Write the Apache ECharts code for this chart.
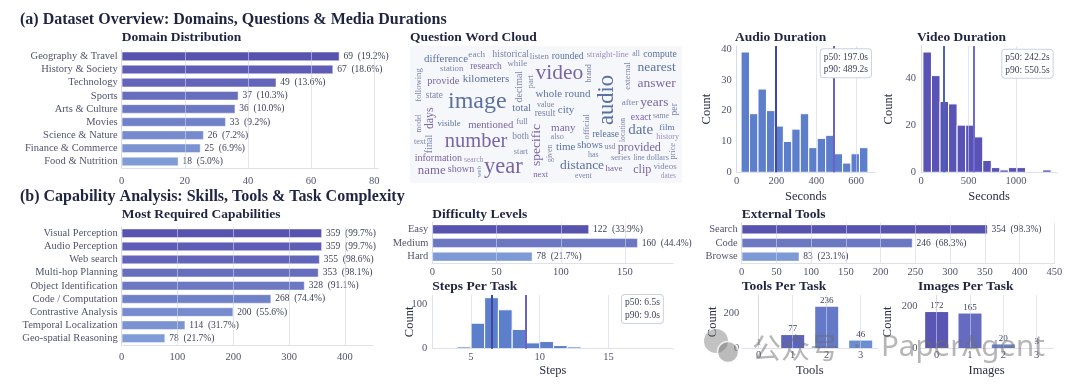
<!DOCTYPE html>
<html><head><meta charset="utf-8">
<script src="https://cdn.jsdelivr.net/npm/echarts@6/dist/echarts.min.js"></script>
<style>html,body{margin:0;padding:0;background:#fff}#c{width:1080px;height:386px}</style>
</head><body><div id="c"></div>
<script>
// ---------------- DATA ----------------
const domainCats = ['Geography & Travel','History & Society','Technology','Sports','Arts & Culture','Movies','Science & Nature','Finance & Commerce','Food & Nutrition'];
const domainVals = [69,67,49,37,36,33,26,25,18];
const domainPct = ['19.2','18.6','13.6','10.3','10.0','9.2','7.2','6.9','5.0'];

const capCats = ['Visual Perception','Audio Perception','Web search','Multi-hop Planning','Object Identification','Code / Computation','Contrastive Analysis','Temporal Localization','Geo-spatial Reasoning'];
const capVals = [359,359,355,353,328,268,200,114,78];
const capPct = ['99.7','99.7','98.6','98.1','91.1','74.4','55.6','31.7','21.7'];

const diffCats = ['Easy','Medium','Hard'];
const diffVals = [122,160,78];
const diffPct = ['33.9','44.4','21.7'];

const extCats = ['Search','Code','Browse'];
const extVals = [354,246,83];
const extPct = ['98.3','68.3','23.1'];

const audioEdges = [22,64.5,107,149.5,192,234.5,277,319.5,362,404.5,447,489.5,532,574.5,617,659.5];
const audioCounts = [39,19,27,20,15,10,14,19,8,11,12,6,3,6,8];
const audioP50 = 197.0, audioP90 = 489.2;

const videoEdges = [20,110,200,290,380,470,560,650,740,830,920,1010,1100,1190,1280,1370];
const videoCounts = [51,41,30,29,20,20,15,5,2,1,2,2,0,0,1];
const videoP50 = 242.2, videoP90 = 550.5;

const stepEdges = [4,5,6,7,8,9,10,11,12,13];
const stepCounts = [4,57,114,87,43,13,16,7,4];
const stepP50 = 6.5, stepP90 = 9.0;

const toolsPerTaskCats = [0,1,2,3];
const toolsPerTaskVals = [1,77,236,46];
const imagesPerTaskCats = [0,1,2,3];
const imagesPerTaskVals = [172,165,20,3];

// word cloud: words, relative weight (font px), rotation, tone
const cloudWords = ['image','video','audio','number','year','distance','date','specific','nearest','answer','years','provided','clip','mentioned','difference','provide','kilometers','whole','round','city','total','many','time','name','days','historical','rounded','compute','research','each','listen','straight-line','all','while','station','brand','external','following','part','decimal','state','value','result','after','per','model','visible','full','official','exact','same','film','history','location','both','also','release','text','final','shows','usd','price','start','given','has','information','search','series','line','dollars','shown','web','have','videos','dates','next','event'];
const cloudWeight = [24,21.5,22.5,20.5,22.5,13.5,15,13.5,13.5,13.5,13.4,12.2,12.2,10.7,10.9,10.5,11,10.9,11,11,10.5,11,11,12.8,11.8,9.9,9.7,9.7,9.5,9.1,8.8,8.7,7.7,8.9,8.7,8,8.5,8.6,8.6,10,9.3,8,9.3,9.1,9.6,7.3,8.7,8.4,8.9,9.8,7.8,9.2,8.2,7.5,9.4,8.3,9.6,8,10,10.3,8.1,8.3,8.3,7.8,8,10,7.6,8.6,7.5,8.2,10.1,7,9,8.9,7.3,8.7,7.7];
const cloudRot = [0,0,90,0,0,0,0,90,0,0,0,0,0,0,0,0,0,0,0,0,0,0,0,0,90,0,0,0,0,0,0,0,0,0,0,90,90,90,90,90,0,0,0,0,90,90,0,0,90,0,0,0,0,90,0,0,0,0,90,0,0,90,0,90,0,0,0,0,0,0,0,90,0,0,0,0,0];
const cloudTone = ['B','P','B','P','P','B','B','P','B','P','P','P','P','P','B','P','B','B','B','B','B','P','B','P','P','M','B','B','P','M','M','L','M','M','M','M','M','M','M','M','M','M','M','M','M','M','B','M','M','P','M','B','L','M','M','M','B','M','M','B','M','M','M','M','M','P','L','M','M','M','P','M','P','M','L','P','M'];
const cloudX = [67.3,149.3,197.3,66,93.3,172,230.7,126,246.7,246.7,244.3,229.3,232.3,80.7,36,33.3,76,138.7,167.7,156,111.7,153.3,155.7,21.7,20,100.7,157.7,250,76,66.7,129.3,197.7,226,107.3,41.7,179.3,217.7,8.3,120.7,109,24.3,135.7,135,220,264,9.3,39,112,176.7,231,251,257,257.7,213.3,110.7,147.3,195.7,10,19.3,180,200,262.7,111,140,183.3,28.3,63.7,210.7,229,247.7,51,69,204,255,258.3,130.7,173.3];
const cloudY = [55.7,27.3,54,95.7,121.3,119,84,99,21.7,37.3,56.7,101.7,124,78.7,12.7,35,33.3,48,48,64,62.7,81.7,100.7,124.7,72.3,8.3,10,8,20,8.3,10.7,8.3,7.7,18,23,27.3,30,39,35.7,40.7,49.3,59,67.3,56.3,63.3,77.3,77.3,75.7,80.7,71,70,81.7,91.3,84,90.7,91.3,88.3,96.3,98,99.3,101,105.3,105.7,107.3,108.7,112.3,114,112,112,112,123.3,125.7,122.7,120.7,129.7,128.3,130];

// ---------------- STYLE ----------------
const F = 'Liberation Serif';
const TICK = '#50556b';
const DARK = '#1f2440';
const AXIS = '#dde1ec';
const GRIDC = 'rgba(208,214,232,0.6)';
const TONES = {B:'#33508a', P:'#5a3f8f', M:'#5d6898', L:'#8670b2'};
const NAMESTYLE = {fontFamily:F,fontSize:12.5,color:'#2a2f45'};

function hex(c){return [1,3,5].map(i=>parseInt(c.substr(i,2),16));}
function lerpColor(a,b,t){const A=hex(a),B=hex(b);return 'rgb('+A.map((v,i)=>Math.round(v+(B[i]-v)*t)).join(',')+')';}
function ramp(n,a,b){const out=[];for(let i=0;i<n;i++)out.push(lerpColor(a,b,n===1?0:i/(n-1)));return out;}
const plain = v => String(v);

const grids=[], xAxes=[], yAxes=[], series=[];
function addGrid(g){grids.push(Object.assign({containLabel:false},g));return grids.length-1;}
function step(t){return t.length>1?t[1]-t[0]:1;}

function hbar(box, cats, vals, pcts, max, ticks, cols, xm){
  const gi=addGrid(box); const xi=xAxes.length, yi=yAxes.length;
  xAxes.push({gridIndex:gi,type:'value',min:0,max:max,interval:step(ticks),z:3,
    axisLine:{show:true,lineStyle:{color:AXIS}},axisTick:{show:false,customValues:ticks},
    splitLine:{show:true,lineStyle:{color:GRIDC,width:1}},
    axisLabel:{customValues:ticks,formatter:plain,fontFamily:F,fontSize:10.5,color:TICK,margin:xm}});
  yAxes.push({gridIndex:gi,type:'category',data:cats,inverse:true,
    axisLine:{show:true,lineStyle:{color:AXIS}},axisTick:{show:false},splitLine:{show:false},
    axisLabel:{interval:0,fontFamily:F,fontSize:10.5,color:TICK,margin:4}});
  series.push({type:'bar',xAxisIndex:xi,yAxisIndex:yi,barCategoryGap:'29%',z:2,
    data:vals.map((v,i)=>({value:v,itemStyle:{color:cols[i]}})),
    itemStyle:{borderColor:'rgba(255,255,255,0.55)',borderWidth:0.8},
    label:{show:true,position:'right',distance:4,fontFamily:F,fontSize:9.5,color:'#3d4259',
      formatter:p=>p.value+'  ('+pcts[p.dataIndex]+'%)'}});
}

function hist(box, edges, counts, color, xmax, xticks, ymax, yticks, p50, p90, c50, c90, xname, xgap, ygap){
  const gi=addGrid(box); const xi=xAxes.length, yi=yAxes.length;
  xAxes.push({gridIndex:gi,type:'value',min:0,max:xmax,interval:step(xticks),z:3,
    name:xname,nameLocation:'middle',nameGap:xgap,nameMoveOverlap:false,nameTextStyle:NAMESTYLE,
    axisLine:{show:true,lineStyle:{color:AXIS}},axisTick:{show:false,customValues:xticks},
    splitLine:{show:true,lineStyle:{color:GRIDC,width:1}},
    axisLabel:{customValues:xticks,formatter:plain,fontFamily:F,fontSize:10.5,color:TICK,margin:3}});
  yAxes.push({gridIndex:gi,type:'value',min:0,max:ymax,interval:step(yticks),
    name:'Count',nameLocation:'middle',nameRotate:90,nameGap:ygap,nameMoveOverlap:false,nameTextStyle:NAMESTYLE,
    axisLine:{show:true,lineStyle:{color:AXIS}},axisTick:{show:false,customValues:yticks},splitLine:{show:false},
    axisLabel:{customValues:yticks,formatter:plain,fontFamily:F,fontSize:10.5,color:TICK,margin:5}});
  series.push({type:'custom',xAxisIndex:xi,yAxisIndex:yi,z:2,encode:{x:[0,1],y:2},
    data:counts.map((c,i)=>[edges[i],edges[i+1],c]),
    renderItem:(params,api)=>{const a=api.coord([api.value(0),api.value(2)]);const b=api.coord([api.value(1),0]);
      return {type:'rect',shape:{x:a[0],y:a[1],width:b[0]-a[0],height:b[1]-a[1]},style:{fill:color,stroke:'#ffffff',lineWidth:1}};}});
  series.push({type:'line',xAxisIndex:xi,yAxisIndex:yi,data:[],z:4,silent:true,
    markLine:{silent:true,symbol:['none','none'],label:{show:false},animation:false,
      data:[{xAxis:p50,lineStyle:{color:c50,width:2,type:'solid'}},{xAxis:p90,lineStyle:{color:c90,width:2,type:'solid'}}]}});
  return xi;
}

function vbar(box, cats, vals, cols, ymax, yticks, xname, ygap){
  const gi=addGrid(box); const xi=xAxes.length, yi=yAxes.length;
  xAxes.push({gridIndex:gi,type:'value',min:-0.5,max:3.5,z:3,
    name:xname,nameLocation:'middle',nameGap:15.7,nameMoveOverlap:false,nameTextStyle:NAMESTYLE,
    axisLine:{show:true,lineStyle:{color:AXIS}},axisTick:{show:false,customValues:cats},
    splitLine:{show:true,lineStyle:{color:GRIDC,width:1}},
    axisLabel:{customValues:cats,formatter:plain,fontFamily:F,fontSize:10.5,color:TICK,margin:1.5}});
  yAxes.push({gridIndex:gi,type:'value',min:0,max:ymax,interval:step(yticks),
    name:'Count',nameLocation:'middle',nameRotate:90,nameGap:ygap,nameMoveOverlap:false,nameTextStyle:NAMESTYLE,
    axisLine:{show:true,lineStyle:{color:AXIS}},axisTick:{show:false,customValues:yticks},splitLine:{show:false},
    axisLabel:{customValues:yticks,formatter:plain,fontFamily:F,fontSize:10.5,color:TICK,margin:2.5}});
  series.push({type:'bar',xAxisIndex:xi,yAxisIndex:yi,barWidth:23,z:2,
    data:vals.map((v,i)=>({value:[cats[i],v],itemStyle:{color:cols[i]}})),
    label:{show:true,position:'top',distance:1.5,fontFamily:F,fontSize:9,color:'#3d4259',formatter:p=>p.value[1]}});
}

// ---------------- PANELS ----------------
hbar({left:121.7,top:49.8,width:256.3,height:118.2}, domainCats, domainVals, domainPct, 81.2, [0,20,40,60,80], ramp(9,'#5953b0','#809cd6'), 8);
hbar({left:121.7,top:226.7,width:251.6,height:118.2}, capCats, capVals, capPct, 451, [0,100,200,300,400], ramp(9,'#5953b0','#809cd6'), 7);
hbar({left:432.3,top:222.5,width:241,height:41}, diffCats, diffVals, diffPct, 187.6, [0,50,100,150], ramp(3,'#5953b0','#7e9ad4'), 3);
hbar({left:741.7,top:222.5,width:312.6,height:41}, extCats, extVals, extPct, 450, [0,50,100,150,200,250,300,350,400,450], ramp(3,'#5953b0','#7e9ad4'), 3);

hist({left:736.7,top:46,width:138.3,height:126.3}, audioEdges, audioCounts, '#5d7fcb', 695, [0,200,400,600], 40.95, [0,10,20,30,40], audioP50, audioP90, '#3e47a2', '#6c62c6', 'Seconds', 17.5, 23.7);
hist({left:921,top:46,width:136.3,height:126.3}, videoEdges, videoCounts, '#5953b5', 1434.7, [0,500,1000], 53.55, [0,20,40], videoP50, videoP90, '#4a62b8', '#6f6ad4', 'Seconds', 17.5, 26);
const stepsX = hist({left:432.3,top:295,width:241,height:53.7}, stepEdges, stepCounts, '#5d7fcb', 19.7, [5,10,15], 120, [0,100], stepP50, stepP90, '#3e47a2', '#6c62c6', 'Steps', 15.7, 16);
xAxes[stepsX].min = 2.2;

vbar({left:741.7,top:295,width:136,height:53.7}, toolsPerTaskCats, toolsPerTaskVals, ramp(4,'#5450b0','#6c8dd2'), 303, [0,200], 'Tools', 22.7);
vbar({left:920,top:295,width:133.3,height:53.7}, imagesPerTaskCats, imagesPerTaskVals, ramp(4,'#5a56b4','#7896d8'), 252, [0,200], 'Images', 26);

// word cloud
const wcGrid = addGrid({left:410,top:46,width:272,height:137,show:true,backgroundColor:'#f6f7fb',borderWidth:0});
const wcX = xAxes.length, wcY = yAxes.length;
xAxes.push({gridIndex:wcGrid,type:'value',min:0,max:272,show:false,splitLine:{show:false}});
yAxes.push({gridIndex:wcGrid,type:'value',min:0,max:137,inverse:true,show:false,splitLine:{show:false}});
series.push({type:'scatter',xAxisIndex:wcX,yAxisIndex:wcY,symbolSize:1,silent:true,z:5,
  itemStyle:{color:'rgba(0,0,0,0)'},
  data:cloudWords.map((w,i)=>({name:w,value:[cloudX[i],cloudY[i]],
    label:{show:true,position:'inside',formatter:'{b}',fontFamily:F,fontSize:cloudWeight[i],rotate:cloudRot[i],color:TONES[cloudTone[i]]}}))});

// ---------------- TEXT ----------------
function T(text,x,y,size,bold,extra){return Object.assign({type:'text',x:x,y:y,z:50,silent:true,
  style:{text:text,fontFamily:F,fontSize:size,fontWeight:bold?'bold':'normal',fill:DARK,align:'left',verticalAlign:'middle'}},extra||{});}
function box(text,x,y){return {type:'text',x:x,y:y,z:50,silent:true,style:{text:text,fontFamily:F,fontSize:9.5,lineHeight:12.5,fill:'#3d4259',
  align:'left',verticalAlign:'top',backgroundColor:'#ffffff',borderColor:'#c9d1e4',borderWidth:1,borderRadius:3,padding:[1.5,3]}};}

const graphics = [
  T('(a) Dataset Overview: Domains, Questions & Media Durations',20,19.5,16,true),
  T('(b) Capability Analysis: Skills, Tools & Task Complexity',20,196.5,16,true),
  T('Domain Distribution',121.7,38,13.5,true),
  T('Question Word Cloud',410,37.5,13.5,true),
  T('Audio Duration',735,38,13.5,true),
  T('Video Duration',917,38,13.5,true),
  T('Most Required Capabilities',121.7,215,13.5,true),
  T('Difficulty Levels',432.3,215,13.5,true),
  T('External Tools',741.7,215,13.5,true),
  T('Steps Per Task',432.3,287,13.5,true),
  T('Tools Per Task',741.7,287,13.5,true),
  T('Images Per Task',918,287,13.5,true),
  box('p50: '+audioP50.toFixed(1)+'s\np90: '+audioP90.toFixed(1)+'s',820.7,49.3),
  box('p50: '+videoP50.toFixed(1)+'s\np90: '+videoP90.toFixed(1)+'s',1002.3,49.8),
  box('p50: '+stepP50.toFixed(1)+'s\np90: '+stepP90.toFixed(1)+'s',622,295),
  // watermark
  {type:'circle',z:60,silent:true,shape:{cx:716,cy:341,r:12},style:{fill:'rgba(120,120,120,0.45)'}},
  {type:'circle',z:61,silent:true,shape:{cx:728,cy:352,r:10.5},style:{fill:'rgba(120,120,120,0.5)',stroke:'rgba(255,255,255,0.8)',lineWidth:1.5}},
  {type:'text',x:752,y:348,z:60,silent:true,style:{text:'公众号',fontFamily:'Noto Sans CJK SC',fontSize:29,fill:'rgba(110,110,110,0.5)',align:'left',verticalAlign:'middle'}},
  {type:'text',x:857,y:348,z:60,silent:true,style:{text:'·',fontFamily:'Noto Sans',fontSize:29,fill:'rgba(110,110,110,0.5)',align:'center',verticalAlign:'middle'}},
  {type:'text',x:881,y:348,z:60,silent:true,style:{text:'PaperAgent',fontFamily:'Noto Sans',fontSize:29.5,fill:'rgba(110,110,110,0.5)',align:'left',verticalAlign:'middle'}}
];

const chart = echarts.init(document.getElementById('c'), null, {renderer:'canvas'});
chart.setOption({animation:false, backgroundColor:'#ffffff', grid:grids, xAxis:xAxes, yAxis:yAxes, series:series, graphic:graphics});
</script></body></html>
